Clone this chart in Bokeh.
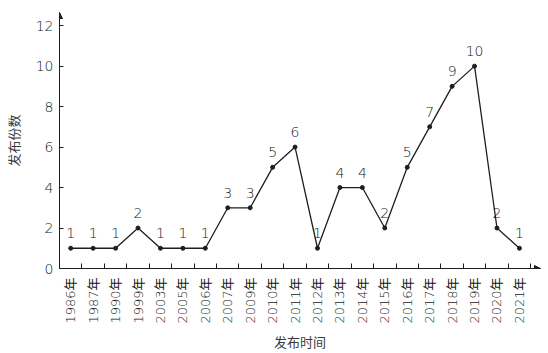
import numpy as np
from bokeh.plotting import figure
from bokeh.models import ColumnDataSource, FixedTicker, Range1d, Arrow, NormalHead, LabelSet
from bokeh.core.properties import value
from bokeh.embed import file_html
from bokeh.resources import INLINE

years = ["1986年", "1987年", "1990年", "1999年", "2003年", "2005年", "2006年",
         "2007年", "2009年", "2010年", "2011年", "2012年", "2013年", "2014年",
         "2015年", "2016年", "2017年", "2018年", "2019年", "2020年", "2021年"]
counts = [1, 1, 1, 2, 1, 1, 1, 3, 3, 5, 6, 1, 4, 4, 2, 5, 7, 9, 10, 2, 1]
y_ticks = [0, 2, 4, 6, 8, 10, 12]

FONT = "DejaVu Sans ExtraLight, DejaVu Sans Light, DejaVu Sans, Noto Sans CJK SC"
CJK = "Noto Sans CJK SC"
TXT = "#151515"
LINE = "#1e1e1e"

xs = list(range(len(years)))
src = ColumnDataSource(dict(x=xs, y=counts, label=[str(c) for c in counts]))

x_end = len(years) - 0.06
y_end = 12.65
p = figure(width=548, height=353, output_backend="svg", toolbar_location=None,
           x_range=Range1d(-0.5, x_end), y_range=Range1d(0, y_end),
           min_border_left=58, min_border_right=8, min_border_top=12,
           min_border_bottom=84)
p.outline_line_color = None
p.grid.visible = False

p.line("x", "y", source=src, line_color=LINE, line_width=1.3)
p.scatter("x", "y", source=src, size=4, color=LINE)

labels = LabelSet(x="x", y="y", text="label", source=src, text_align="center",
                  text_baseline="bottom", y_offset=10, text_font_size="14px",
                  text_color=TXT, text_font=value(FONT))
p.add_layout(labels)

xa = p.xaxis[0]
xa.ticker = FixedTicker(ticks=xs, minor_ticks=[i - 0.5 for i in range(len(years) + 1)])
xa.major_label_overrides = {i: y for i, y in enumerate(years)}
xa.major_tick_in = 0
xa.major_tick_out = 0
xa.minor_tick_in = 5
xa.minor_tick_out = 0
xa.major_label_orientation = np.pi / 2
xa.major_label_standoff = 9
xa.major_label_text_font = FONT
xa.major_label_text_font_size = "13px"
xa.major_label_text_color = TXT
xa.axis_label = "发布时间"
xa.axis_label_text_font = CJK
xa.axis_label_text_font_size = "13px"
xa.axis_label_text_font_style = "normal"
xa.axis_label_text_color = "#3a3a3a"
xa.axis_label_standoff = 5
xa.axis_line_color = LINE
xa.major_tick_line_color = LINE
xa.minor_tick_line_color = LINE

ya = p.yaxis[0]
ya.ticker = FixedTicker(ticks=y_ticks, minor_ticks=[])
ya.major_tick_in = 4
ya.major_tick_out = 0
ya.major_label_standoff = 6
ya.major_label_text_font = FONT
ya.major_label_text_font_size = "14px"
ya.major_label_text_color = TXT
ya.axis_label = "发布份数"
ya.axis_label_text_font = CJK
ya.axis_label_text_font_size = "13px"
ya.axis_label_text_font_style = "normal"
ya.axis_label_text_color = "#3a3a3a"
ya.axis_label_standoff = 10
ya.axis_line_color = LINE
ya.major_tick_line_color = LINE

p.add_layout(Arrow(end=NormalHead(size=6, fill_color=LINE, line_color=LINE),
                   x_start=-0.5, y_start=y_end - 0.5, x_end=-0.5, y_end=y_end,
                   line_color=LINE, line_width=1))
p.add_layout(Arrow(end=NormalHead(size=6, fill_color=LINE, line_color=LINE),
                   x_start=x_end - 0.5, y_start=0, x_end=x_end, y_end=0,
                   line_color=LINE, line_width=1))

open("out.html", "w").write(file_html(p, INLINE))
